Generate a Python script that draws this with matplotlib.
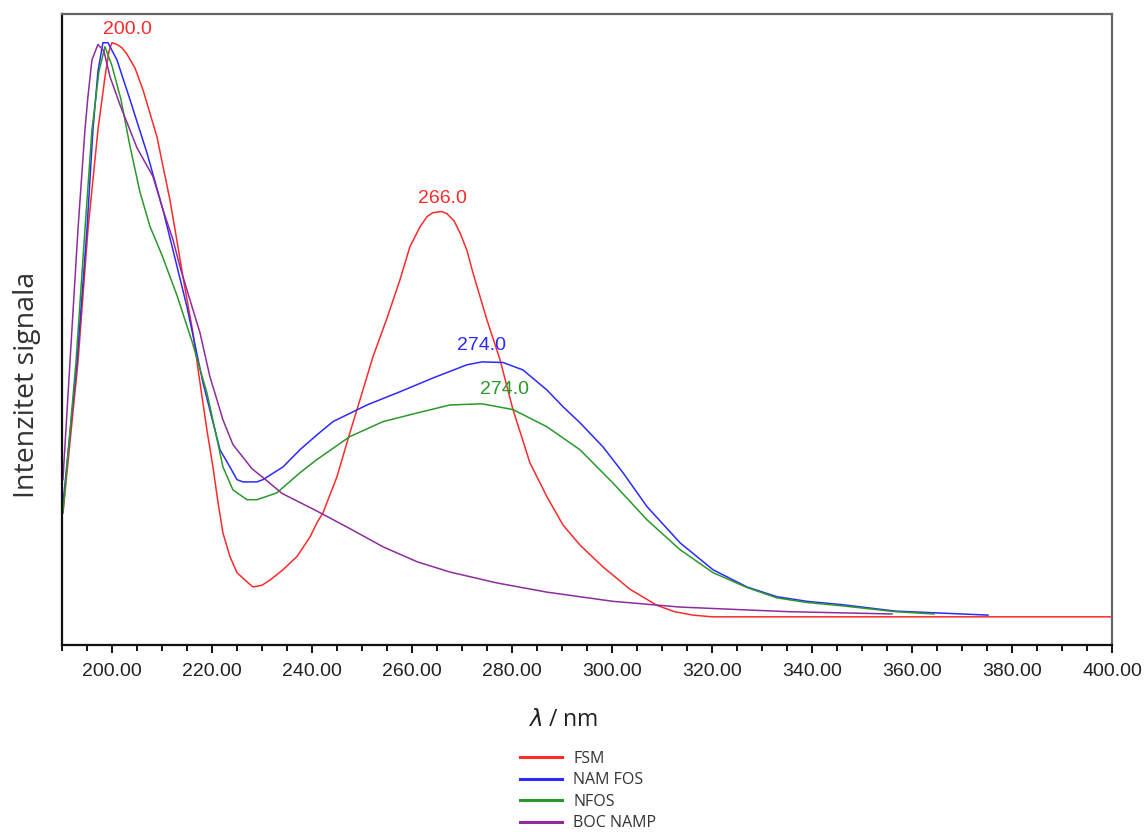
import numpy as np
import matplotlib
matplotlib.use('Agg')
import matplotlib.pyplot as plt
from matplotlib.ticker import MultipleLocator, FormatStrFormatter

# --- Spectra (wavelength in nm, normalised intensity) ---
fsm_wl = [190.2, 193.2, 195.2, 197.2, 198.6, 199.4, 200.0, 201.0, 202.0, 203.0, 204.6,
          206.2, 209.0, 211.6, 213.0, 214.2, 216.2, 217.6, 219.0, 220.2, 221.2, 222.2,
          223.6, 225.0, 227.0, 228.2, 230.0, 231.6, 234.2, 237.0, 239.6, 241.0, 242.2,
          245.0, 247.6, 249.6, 252.2, 255.0, 257.6, 259.6, 261.6, 263.0, 264.2, 266.0,
          267.0, 268.4, 269.6, 271.0, 272.2, 275.0, 277.6, 280.2, 283.6, 287.0, 290.2,
          293.6, 298.2, 303.6, 309.0, 312.5, 316.2, 320.0, 350.0, 380.0, 400.0]
fsm_int = [0.181, 0.443, 0.674, 0.848, 0.940, 0.985, 1.000, 0.997, 0.991, 0.980, 0.956,
           0.918, 0.836, 0.726, 0.655, 0.592, 0.495, 0.408, 0.325, 0.261, 0.200, 0.146,
           0.105, 0.077, 0.061, 0.052, 0.055, 0.064, 0.082, 0.105, 0.139, 0.164, 0.181,
           0.244, 0.321, 0.378, 0.453, 0.520, 0.587, 0.645, 0.679, 0.697, 0.704, 0.706,
           0.702, 0.690, 0.669, 0.638, 0.599, 0.517, 0.448, 0.361, 0.268, 0.209, 0.160,
           0.125, 0.087, 0.048, 0.020, 0.009, 0.003, 0.0, 0.0, 0.0, 0.0]

namfos_wl = [190.0, 193.0, 195.0, 196.2, 197.2, 198.2, 199.2, 201.0, 203.6, 207.0, 210.2,
             212.2, 215.0, 218.2, 221.6, 223.6, 225.0, 226.2, 229.0, 230.2, 234.2, 237.6,
             241.0, 244.2, 251.0, 257.6, 264.2, 271.0, 274.0, 278.2, 282.2, 287.0, 290.2,
             293.6, 298.2, 302.2, 307.0, 313.6, 320.2, 327.0, 333.0, 339.0, 346.2, 356.6,
             375.2]
namfos_int = [0.178, 0.443, 0.674, 0.848, 0.950, 1.000, 1.000, 0.970, 0.901, 0.808, 0.709,
              0.639, 0.540, 0.408, 0.291, 0.261, 0.239, 0.235, 0.235, 0.239, 0.261, 0.291,
              0.317, 0.340, 0.369, 0.392, 0.416, 0.439, 0.444, 0.443, 0.430, 0.395, 0.366,
              0.338, 0.296, 0.251, 0.192, 0.129, 0.082, 0.052, 0.035, 0.027, 0.021, 0.010,
              0.003]

nfos_wl = [190.2, 192.8, 194.6, 196.0, 197.4, 198.6, 200.0, 201.8, 203.6, 205.6, 207.6,
           210.0, 213.0, 216.0, 219.0, 221.0, 222.2, 224.2, 227.0, 229.0, 233.0, 237.6,
           241.0, 247.6, 254.2, 261.0, 267.6, 274.0, 280.2, 287.0, 293.6, 300.2, 307.0,
           313.6, 320.2, 327.0, 333.0, 339.0, 346.2, 356.6, 364.4]
nfos_int = [0.181, 0.443, 0.674, 0.848, 0.950, 0.993, 0.960, 0.901, 0.820, 0.740, 0.680,
            0.630, 0.560, 0.480, 0.390, 0.310, 0.261, 0.221, 0.204, 0.204, 0.216, 0.251,
            0.274, 0.314, 0.340, 0.355, 0.369, 0.371, 0.361, 0.331, 0.291, 0.233, 0.169,
            0.117, 0.077, 0.051, 0.033, 0.025, 0.019, 0.009, 0.005]

bocnamp_wl = [190.2, 191.6, 193.2, 194.6, 195.2, 196.0, 197.2, 198.4, 199.6, 201.6, 205.0,
              208.2, 210.2, 212.2, 213.6, 215.6, 217.6, 219.6, 221.0, 222.2, 224.2, 228.0,
              231.0, 234.0, 240.6, 247.3, 254.2, 261.0, 267.6, 277.0, 287.0, 300.2, 313.6,
              327.0, 335.2, 356.0]
bocnamp_int = [0.239, 0.443, 0.674, 0.848, 0.906, 0.970, 0.997, 0.985, 0.941, 0.892, 0.817,
               0.767, 0.709, 0.657, 0.610, 0.552, 0.495, 0.418, 0.378, 0.343, 0.300, 0.258,
               0.237, 0.215, 0.186, 0.155, 0.122, 0.096, 0.078, 0.059, 0.043, 0.027, 0.017,
               0.012, 0.009, 0.005]

series_names = ['FSM', 'NAM FOS', 'NFOS', 'BOC NAMP']
series_colors = ['#ff2a2a', '#2a2aff', '#2a982a', '#8e2c9c']
peak_labels = [(200.0, '200.0', 0), (266.0, '266.0', 0), (274.0, '274.0', 1), (274.0, '274.0', 2)]
peak_offsets = [(11, 3.5), (0, 3.5), (0, 5.5), (16.5, 4.3)]

fig = plt.figure(figsize=(11.45, 8.32), dpi=100)
ax = fig.add_axes([0.0541, 0.2248, 0.9171, 0.7584])

data = [(fsm_wl, fsm_int), (namfos_wl, namfos_int), (nfos_wl, nfos_int), (bocnamp_wl, bocnamp_int)]
lines = []
for (wl, inten), name, col in zip(data, series_names, series_colors):
    ln, = ax.plot(wl, inten, color=col, lw=1.1, label=name)
    lines.append(ln)

tick_font = ['Liberation Sans', 'DejaVu Sans']
for (pk, txt, idx), (dx, dy) in zip(peak_labels, peak_offsets):
    wl, inten = data[idx]
    yv = np.interp(pk, wl, inten)
    ax.annotate(txt, xy=(pk, yv), xytext=(dx, dy), textcoords='offset points',
                ha='center', va='bottom', color=series_colors[idx], fontsize=14,
                family=tick_font)

ax.set_xlim(190, 400)
ax.set_ylim(-0.049, 1.05)
ax.xaxis.set_major_locator(MultipleLocator(20))
ax.xaxis.set_minor_locator(MultipleLocator(5))
ax.xaxis.set_major_formatter(FormatStrFormatter('%.2f'))
ax.set_yticks([])
ax.tick_params(axis='x', which='major', direction='out', length=6, width=1.3, pad=7,
               labelsize=14, labelcolor='#222222')
ax.tick_params(axis='x', which='minor', direction='out', length=4, width=1.3)
for lab in ax.get_xticklabels():
    lab.set_family(tick_font)

for s in ['left', 'bottom']:
    ax.spines[s].set_linewidth(1.6)
    ax.spines[s].set_color('#111111')
for s in ['top', 'right']:
    ax.spines[s].set_linewidth(1.6)
    ax.spines[s].set_color('#666666')

fig.text(27 / 1145, 1 - 385 / 832, 'Intenzitet signala', rotation=90, ha='center', va='center',
         fontsize=20.5, family=['Open Sans', 'DejaVu Sans'], color='#333333')
fig.text(563 / 1145, 1 - 720 / 832, r'$\lambda$ / nm', ha='center', va='center',
         fontsize=16.5, family=['Open Sans', 'DejaVu Sans'], color='#222222')

leg = fig.legend(handles=lines, loc='upper left', bbox_to_anchor=(512 / 1145, 1 - 743 / 832),
                 frameon=False, handlelength=2.6, handletextpad=0.75,
                 labelspacing=0.34, borderpad=0, prop={'family': ['Open Sans', 'DejaVu Sans'], 'size': 11.5})
for ln in leg.get_lines():
    ln.set_linewidth(2.2)
for t in leg.get_texts():
    t.set_color('#333333')

fig.savefig('out.png', dpi=100)
